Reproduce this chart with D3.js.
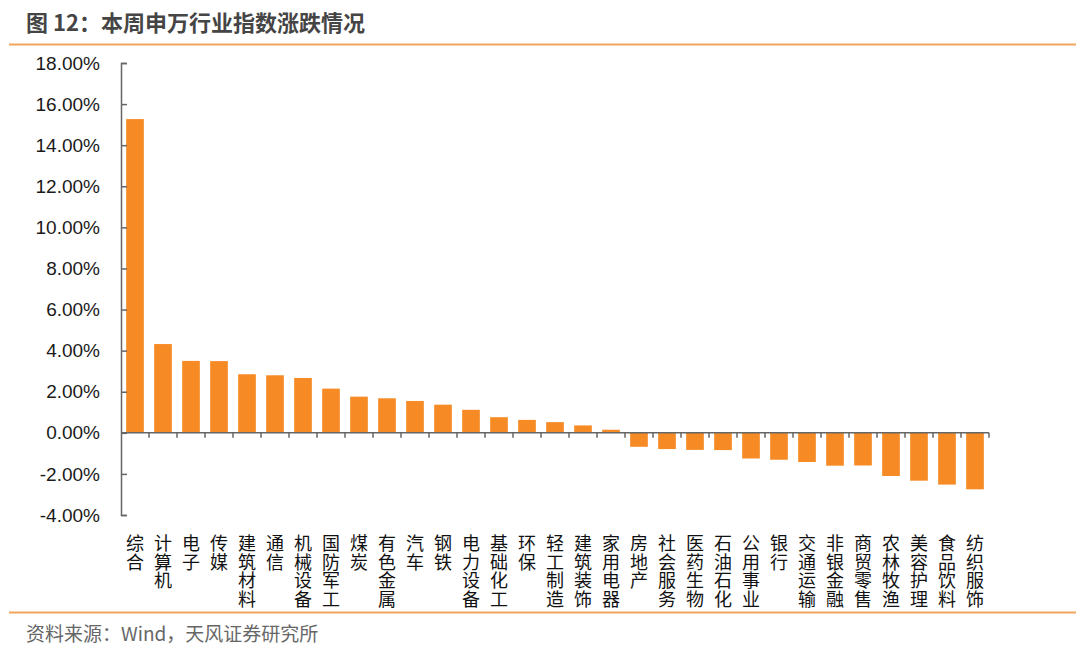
<!DOCTYPE html>
<html>
<head>
<meta charset="utf-8">
<script src="https://cdn.jsdelivr.net/npm/d3@7"></script>
<style>
  body { margin: 0; background: #fff; }
  svg { display: block; }
</style>
</head>
<body>
<div class="bar-chart"></div>
<script>
// data
const industries = ["综合", "计算机", "电子", "传媒", "建筑材料", "通信", "机械设备", "国防军工", "煤炭", "有色金属",
  "汽车", "钢铁", "电力设备", "基础化工", "环保", "轻工制造", "建筑装饰", "家用电器", "房地产", "社会服务",
  "医药生物", "石油石化", "公用事业", "银行", "交通运输", "非银金融", "商贸零售", "农林牧渔", "美容护理", "食品饮料", "纺织服饰"];
const changes = [15.27, 4.32, 3.50, 3.49, 2.85, 2.80, 2.67, 2.15, 1.76, 1.68,
  1.55, 1.37, 1.12, 0.76, 0.63, 0.52, 0.36, 0.15, -0.68, -0.79,
  -0.83, -0.84, -1.25, -1.31, -1.42, -1.60, -1.59, -2.10, -2.33, -2.52, -2.75];
const yTicks = [-4, -2, 0, 2, 4, 6, 8, 10, 12, 14, 16, 18];

const data = industries.map((name, i) => ({name: name, value: changes[i]}));

const width = 1080;
const height = 651;
const cjk = "'Noto Sans CJK SC', 'Noto Sans', sans-serif";

const svg = d3.select(".bar-chart")
    .append('svg')
    .attr('width', width)
    .attr('height', height);

// title and rules
svg.append('text')
    .text("图 12：本周申万行业指数涨跌情况")
    .attr('x', 26)
    .attr('y', 31)
    .attr('font-family', cjk)
    .attr('font-size', 22)
    .attr('font-weight', 'bold')
    .attr('fill', '#454545');

svg.append('line')
    .attr('x1', 9).attr('x2', 1076)
    .attr('y1', 44.5).attr('y2', 44.5)
    .attr('stroke', '#F2A35C')
    .attr('stroke-width', 2);

svg.append('line')
    .attr('x1', 9).attr('x2', 1076)
    .attr('y1', 612.5).attr('y2', 612.5)
    .attr('stroke', '#F2A35C')
    .attr('stroke-width', 2);

svg.append('text')
    .text("资料来源：Wind，天风证券研究所")
    .attr('x', 26)
    .attr('y', 641)
    .attr('font-family', cjk)
    .attr('font-size', 19)
    .attr('fill', '#666');

// scales
const xScale = d3.scaleBand()
    .domain(industries)
    .range([121, 989])
    .paddingInner(0.37)
    .paddingOuter(0.185);

const yScale = d3.scaleLinear()
    .domain([-4, 18])
    .range([515, 63]);

// bars
svg.append('g')
    .selectAll('rect')
    .data(data)
    .enter()
    .append('rect')
    .attr('x', (d) => xScale(d.name))
    .attr('width', xScale.bandwidth())
    .attr('y', (d) => yScale(Math.max(0, d.value)))
    .attr('height', (d) => Math.abs(yScale(d.value) - yScale(0)))
    .attr('fill', '#F68A24');

// y axis
const yAxis = d3.axisLeft(yScale)
    .tickValues(yTicks)
    .tickSize(-6)
    .tickPadding(21)
    .tickFormat((d) => d.toFixed(2) + "%");

svg.append('g')
    .attr('class', 'axis y-axis')
    .attr('transform', 'translate(121,0)')
    .call(yAxis)
    .call(g => g.select('.domain').attr('stroke', '#666').attr('stroke-width', 1.5))
    .call(g => g.selectAll('.tick line').attr('stroke', '#666').attr('stroke-width', 1.5))
    .call(g => g.selectAll('.tick text')
        .attr('fill', '#1a1a1a')
        .attr('font-family', "'Liberation Sans', Arial, sans-serif")
        .attr('font-size', 19));

// x axis at zero with ticks between categories
const boundaries = d3.range(industries.length + 1).map((i) => 121 + i * xScale.step());
const xAxisG = svg.append('g')
    .attr('class', 'axis x-axis');

xAxisG.append('line')
    .attr('x1', 121).attr('x2', 989)
    .attr('y1', yScale(0)).attr('y2', yScale(0))
    .attr('stroke', '#666')
    .attr('stroke-width', 1.5);

xAxisG.selectAll('.tick')
    .data(boundaries.slice(1))
    .enter()
    .append('line')
    .attr('class', 'tick')
    .attr('x1', (d) => d).attr('x2', (d) => d)
    .attr('y1', yScale(0)).attr('y2', yScale(0) + 5)
    .attr('stroke', '#666')
    .attr('stroke-width', 1.5);

// vertical category labels
const labels = svg.append('g')
    .attr('font-family', cjk)
    .attr('font-size', 18)
    .attr('fill', '#111')
    .attr('text-anchor', 'middle')
    .selectAll('text')
    .data(industries)
    .enter()
    .append('text')
    .attr('transform', (d) => `translate(${xScale(d) + xScale.bandwidth() / 2},550)`);

labels.selectAll('tspan')
    .data((d) => d.split(''))
    .enter()
    .append('tspan')
    .attr('x', 0)
    .attr('y', (c, i) => i * 18.5)
    .text((c) => c);
</script>
</body>
</html>
